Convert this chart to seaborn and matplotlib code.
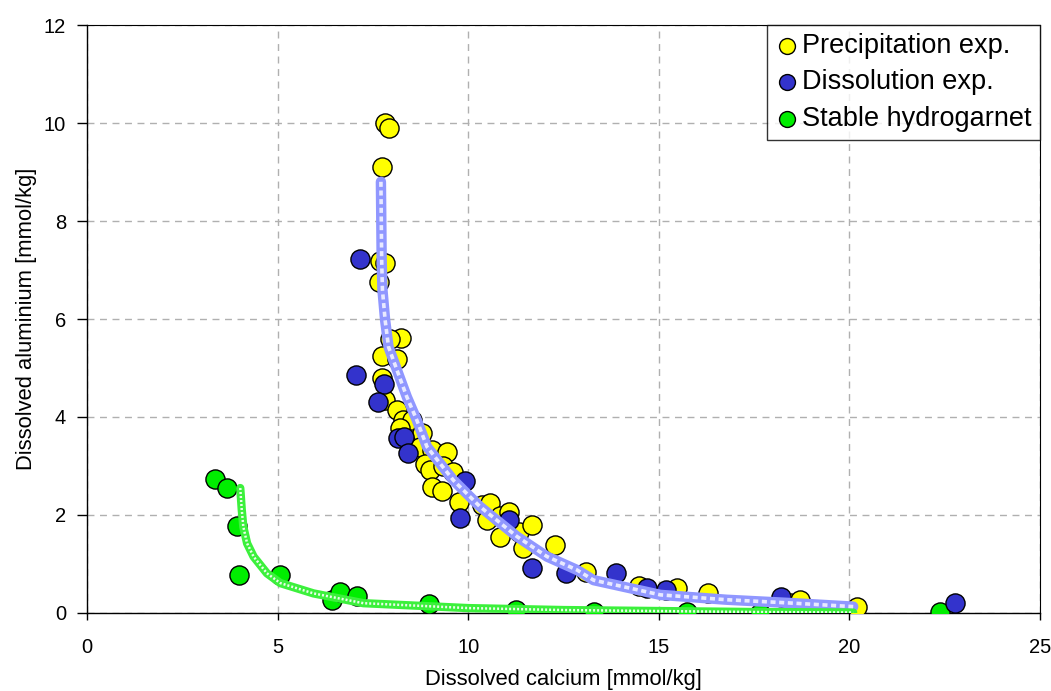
import numpy as np
import pandas as pd
import matplotlib
matplotlib.use("Agg")
import matplotlib.pyplot as plt
import seaborn as sns

# Precipitation experiments
precip_ca = [7.82, 7.93, 7.73, 7.69, 7.82, 7.67, 8.24, 7.95, 7.73, 8.13, 7.73, 7.82,
             8.13, 8.30, 8.52, 8.22, 8.78, 8.74, 9.05, 9.44, 8.87, 9.00, 9.35, 9.61,
             9.05, 9.31, 9.75, 10.36, 10.58, 10.49, 10.84, 11.06, 11.32, 10.84, 11.67,
             11.45, 12.28, 13.10, 14.47, 15.49, 16.29, 18.45, 18.70, 20.20]
precip_al = [9.99, 9.90, 9.11, 7.18, 7.14, 6.76, 5.61, 5.60, 5.24, 5.18, 4.79, 4.35,
             4.14, 3.94, 3.94, 3.77, 3.67, 3.39, 3.33, 3.29, 3.05, 2.92, 2.99, 2.88,
             2.58, 2.48, 2.27, 2.20, 2.24, 1.90, 1.97, 2.07, 1.66, 1.56, 1.80,
             1.32, 1.39, 0.84, 0.55, 0.50, 0.40, 0.20, 0.27, 0.13]

# Dissolution experiments
dissol_ca = [7.15, 7.06, 7.78, 7.63, 8.17, 8.32, 8.43, 9.92, 9.78, 11.08, 11.67,
             12.57, 13.88, 14.69, 15.20, 18.21, 22.78]
dissol_al = [7.22, 4.86, 4.67, 4.31, 3.58, 3.60, 3.26, 2.69, 1.93, 1.90, 0.91,
             0.81, 0.81, 0.50, 0.47, 0.33, 0.20]

# Stable hydrogarnet
garnet_ca = [3.36, 3.67, 3.93, 3.99, 5.05, 6.42, 6.64, 7.08, 8.98, 11.26, 13.29,
             15.74, 17.65, 22.39]
garnet_al = [2.73, 2.56, 1.78, 0.78, 0.78, 0.27, 0.43, 0.35, 0.18, 0.06, 0.03,
             0.03, 0.00, 0.03]

# Trend curves
trend_exp_ca = [7.71, 7.73, 7.75, 7.82, 7.91, 8.13, 8.39, 8.65, 8.92, 9.61, 10.31,
                11.28, 12.07, 12.85, 13.29, 15.04, 16.79, 18.54, 20.10]
trend_exp_al = [8.80, 7.20, 6.60, 5.98, 5.43, 4.96, 4.41, 3.94, 3.39, 2.71, 2.17,
                1.56, 1.15, 0.88, 0.67, 0.37, 0.27, 0.20, 0.13]
trend_hg_ca = [4.02, 4.06, 4.10, 4.20, 4.37, 4.72, 5.07, 5.94, 7.25, 10.0, 12.5,
               15.0, 17.5, 20.1]
trend_hg_al = [2.55, 2.10, 1.76, 1.42, 1.15, 0.81, 0.61, 0.40, 0.20, 0.10, 0.06,
               0.04, 0.02, 0.01]

x_ticks = [0, 5, 10, 15, 20, 25]
y_ticks = [0, 2, 4, 6, 8, 10, 12]

sns.set_style("ticks")
plt.rcParams["font.family"] = ["Liberation Sans", "DejaVu Sans"]
plt.rcParams["text.color"] = "black"
plt.rcParams["axes.labelcolor"] = "black"
plt.rcParams["xtick.color"] = "black"
plt.rcParams["ytick.color"] = "black"

fig = plt.figure(figsize=(10.51, 6.91), dpi=100)
ax = fig.add_axes([0.0828, 0.1129, 0.9067, 0.8509])

# Trend lines: wide pale band with a white woven pattern on top
tr_exp = pd.DataFrame({"ca": trend_exp_ca, "al": trend_exp_al})
tr_hg = pd.DataFrame({"ca": trend_hg_ca, "al": trend_hg_al})
sns.lineplot(data=tr_exp, x="ca", y="al", sort=False, ax=ax, color="#9097ff",
             linewidth=7.5, zorder=4, estimator=None)
sns.lineplot(data=tr_exp, x="ca", y="al", sort=False, ax=ax, color="white",
             linewidth=2.6, zorder=4.1, estimator=None,
             linestyle=(0, (1.4, 1.0)), alpha=0.8)
sns.lineplot(data=tr_hg, x="ca", y="al", sort=False, ax=ax, color="#3cf03c",
             linewidth=6, zorder=4, estimator=None)
sns.lineplot(data=tr_hg, x="ca", y="al", sort=False, ax=ax, color="white",
             linewidth=1.8, zorder=4.1, estimator=None,
             linestyle=(0, (0.8, 0.8)), alpha=0.9)

msize = 190
sns.scatterplot(x=precip_ca, y=precip_al, ax=ax, color="#FFFF00", edgecolor="black",
                linewidth=1, s=msize, zorder=3, label="Precipitation exp.")
sns.scatterplot(x=dissol_ca, y=dissol_al, ax=ax, color="#3333CC", edgecolor="black",
                linewidth=1, s=msize, zorder=3.5, label="Dissolution exp.")
sns.scatterplot(x=garnet_ca, y=garnet_al, ax=ax, color="#00EE00", edgecolor="black",
                linewidth=1, s=msize, zorder=3, label="Stable hydrogarnet")

ax.set_xlim(0, 25)
ax.set_ylim(0, 12)
ax.set_xticks(x_ticks)
ax.set_yticks(y_ticks)
ax.tick_params(axis="x", labelsize=14.5, length=5, width=1, direction="out", pad=13)
ax.tick_params(axis="y", labelsize=14.5, length=7, width=1, direction="out", pad=8)
ax.grid(True, color="#b0b0b0", linestyle=(0, (5, 4)), linewidth=1)
ax.set_axisbelow(True)
for sp in ax.spines.values():
    sp.set_visible(True)
    sp.set_color("black")
    sp.set_linewidth(1)
for side in ("top", "right"):
    ax.spines[side].set_linewidth(0.8)

ax.set_xlabel("Dissolved calcium [mmol/kg]", fontsize=15.8, labelpad=9)
ax.set_ylabel("Dissolved aluminium [mmol/kg]", fontsize=15.8, labelpad=5)

leg = ax.legend(loc="upper right", fontsize=19.5, frameon=True, fancybox=False,
                borderaxespad=0, handletextpad=0.1, handlelength=0.9,
                borderpad=0.3, labelspacing=0.38, markerscale=0.83)
leg.get_frame().set_edgecolor("black")
leg.get_frame().set_linewidth(1)
leg.set_zorder(10)

fig.savefig("out.png", dpi=100)
